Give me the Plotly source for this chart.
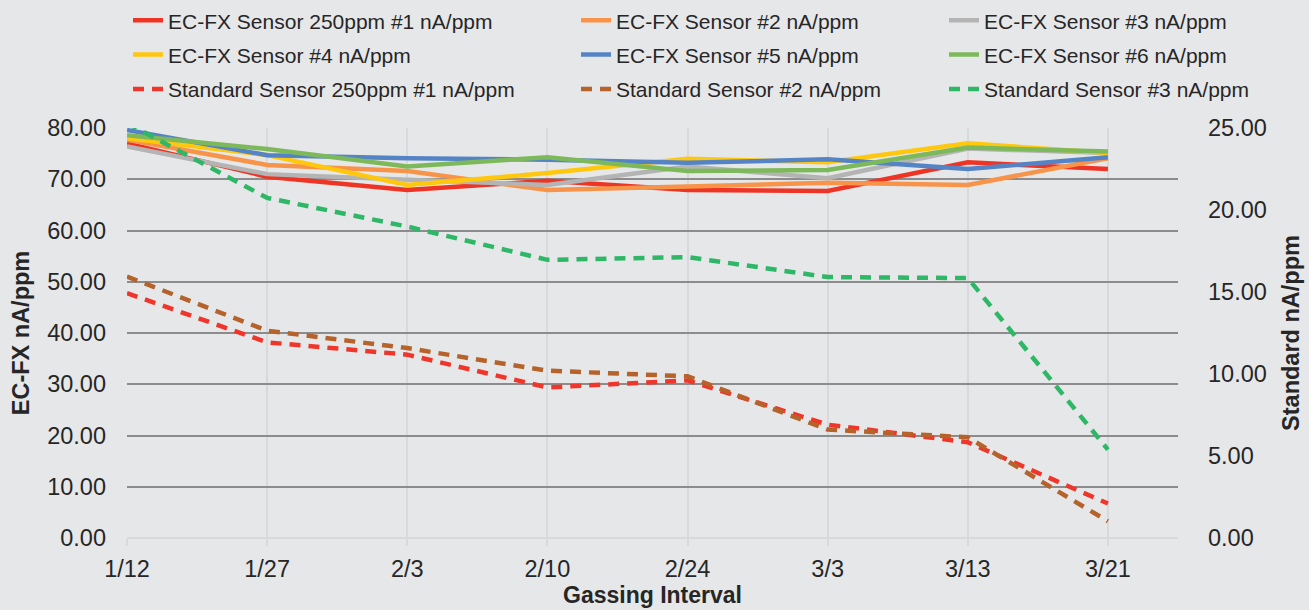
import plotly.graph_objects as go

# ---------------- data ----------------
dates = ["1/12", "1/27", "2/3", "2/10", "2/24", "3/3", "3/13", "3/21"]

ecfx_1 = [77.0, 70.5, 67.9, 69.7, 67.9, 67.7, 73.3, 72.0]
ecfx_2 = [77.7, 72.8, 71.6, 67.9, 68.6, 69.3, 68.9, 74.1]
ecfx_3 = [76.4, 71.0, 69.9, 68.9, 72.5, 70.2, 76.0, 75.1]
ecfx_4 = [78.0, 74.7, 68.9, 71.2, 74.0, 73.3, 77.0, 75.1]
ecfx_5 = [79.6, 74.7, 74.1, 73.8, 73.2, 73.9, 72.0, 74.3]
ecfx_6 = [78.6, 75.9, 72.5, 74.3, 71.6, 71.8, 76.2, 75.4]

std_1 = [14.93, 11.93, 11.18, 9.18, 9.61, 6.91, 5.84, 2.10]
std_2 = [15.94, 12.64, 11.58, 10.20, 9.86, 6.61, 6.14, 1.02]
std_3 = [25.30, 20.74, 18.99, 16.96, 17.13, 15.91, 15.85, 5.39]

names = [
    "EC-FX Sensor 250ppm #1 nA/ppm", "EC-FX Sensor #2 nA/ppm", "EC-FX Sensor #3 nA/ppm",
    "EC-FX Sensor #4 nA/ppm", "EC-FX Sensor #5 nA/ppm", "EC-FX Sensor #6 nA/ppm",
    "Standard Sensor 250ppm #1 nA/ppm", "Standard Sensor #2 nA/ppm", "Standard Sensor #3 nA/ppm",
]
values = [ecfx_1, ecfx_2, ecfx_3, ecfx_4, ecfx_5, ecfx_6, std_1, std_2, std_3]

# ---------------- styles ----------------
colors = ["#EE3424", "#F7944A", "#B4B4B4", "#FFC80F", "#5584C6", "#7DB95B",
          "#F0352A", "#B5622B", "#2DB766"]
axes = ["y"] * 6 + ["y2"] * 3
legends = ["legend", "legend2", "legend3"] * 3

FONT = "Liberation Sans, Arial, Helvetica, sans-serif"
TXT = "#262626"
BG = "#E6E7E8"
LIGHT = "#D8D9DB"

fig = go.Figure()
for i, (nm, vals) in enumerate(zip(names, values)):
    dashed = axes[i] == "y2"
    fig.add_trace(go.Scatter(
        x=dates, y=vals, name=nm, mode="lines", yaxis=axes[i],
        line=dict(color=colors[i], width=4.5, dash="11px,8px" if dashed else "solid"),
        legend=legends[i], legendgroup="g%d" % i,
    ))

plot_left, plot_right, plot_top, plot_bottom = 127, 1178, 128, 538.5
W, H = 1309, 610
pw = plot_right - plot_left
ph = plot_bottom - plot_top

def px_x(p):
    return (p - plot_left) / pw

def px_y(p):
    return (plot_bottom - p) / ph

leg_common = dict(
    orientation="v", xanchor="left", yanchor="top", bgcolor="rgba(0,0,0,0)",
    font=dict(family=FONT, size=21, color=TXT), tracegroupgap=4,
    traceorder="grouped", itemwidth=30,
)

fig.update_layout(
    width=W, height=H,
    margin=dict(l=plot_left, r=W - plot_right, t=plot_top, b=H - plot_bottom, autoexpand=False),
    paper_bgcolor=BG, plot_bgcolor=BG,
    font=dict(family=FONT, color=TXT),
    showlegend=True,
    legend=dict(x=px_x(128), y=px_y(0), **leg_common),
    legend2=dict(x=px_x(576), y=px_y(0), **leg_common),
    legend3=dict(x=px_x(944), y=px_y(0), **leg_common),
    xaxis=dict(
        type="category", range=[0, 7.5], automargin=False,
        showgrid=True, gridcolor=LIGHT, gridwidth=1.5,
        ticks="outside", ticklen=7, tickcolor=LIGHT, tickwidth=1.5,
        tickfont=dict(size=23.5, color=TXT), ticklabelstandoff=3,
        showline=False, zeroline=False,
        title=dict(text="Gassing Interval", font=dict(size=23, weight="bold", color=TXT), standoff=4),
    ),
    yaxis=dict(
        range=[0, 80], dtick=10, tickformat=".2f", automargin=False,
        showgrid=True, gridcolor="#8C8C8C", gridwidth=1.5,
        zeroline=True, zerolinecolor=LIGHT, zerolinewidth=1.5,
        ticks="", ticklabelstandoff=20, showline=False,
        tickfont=dict(size=23.5, color=TXT),
        title=dict(text="EC-FX nA/ppm", font=dict(size=23.5, weight="bold", color=TXT), standoff=10),
    ),
    yaxis2=dict(
        overlaying="y", side="right", range=[0, 25], dtick=5, tickformat=".2f", automargin=False,
        showgrid=False, zeroline=False, ticks="", ticklabelstandoff=29, showline=False,
        tickfont=dict(size=23.5, color=TXT),
        title=dict(text="Standard nA/ppm", font=dict(size=23.5, weight="bold", color=TXT), standoff=16),
    ),
)

fig.write_html(
    "out.html",
    config={"displayModeBar": False},
    post_script="document.body.style.margin='0px';document.body.style.overflow='hidden';",
)
